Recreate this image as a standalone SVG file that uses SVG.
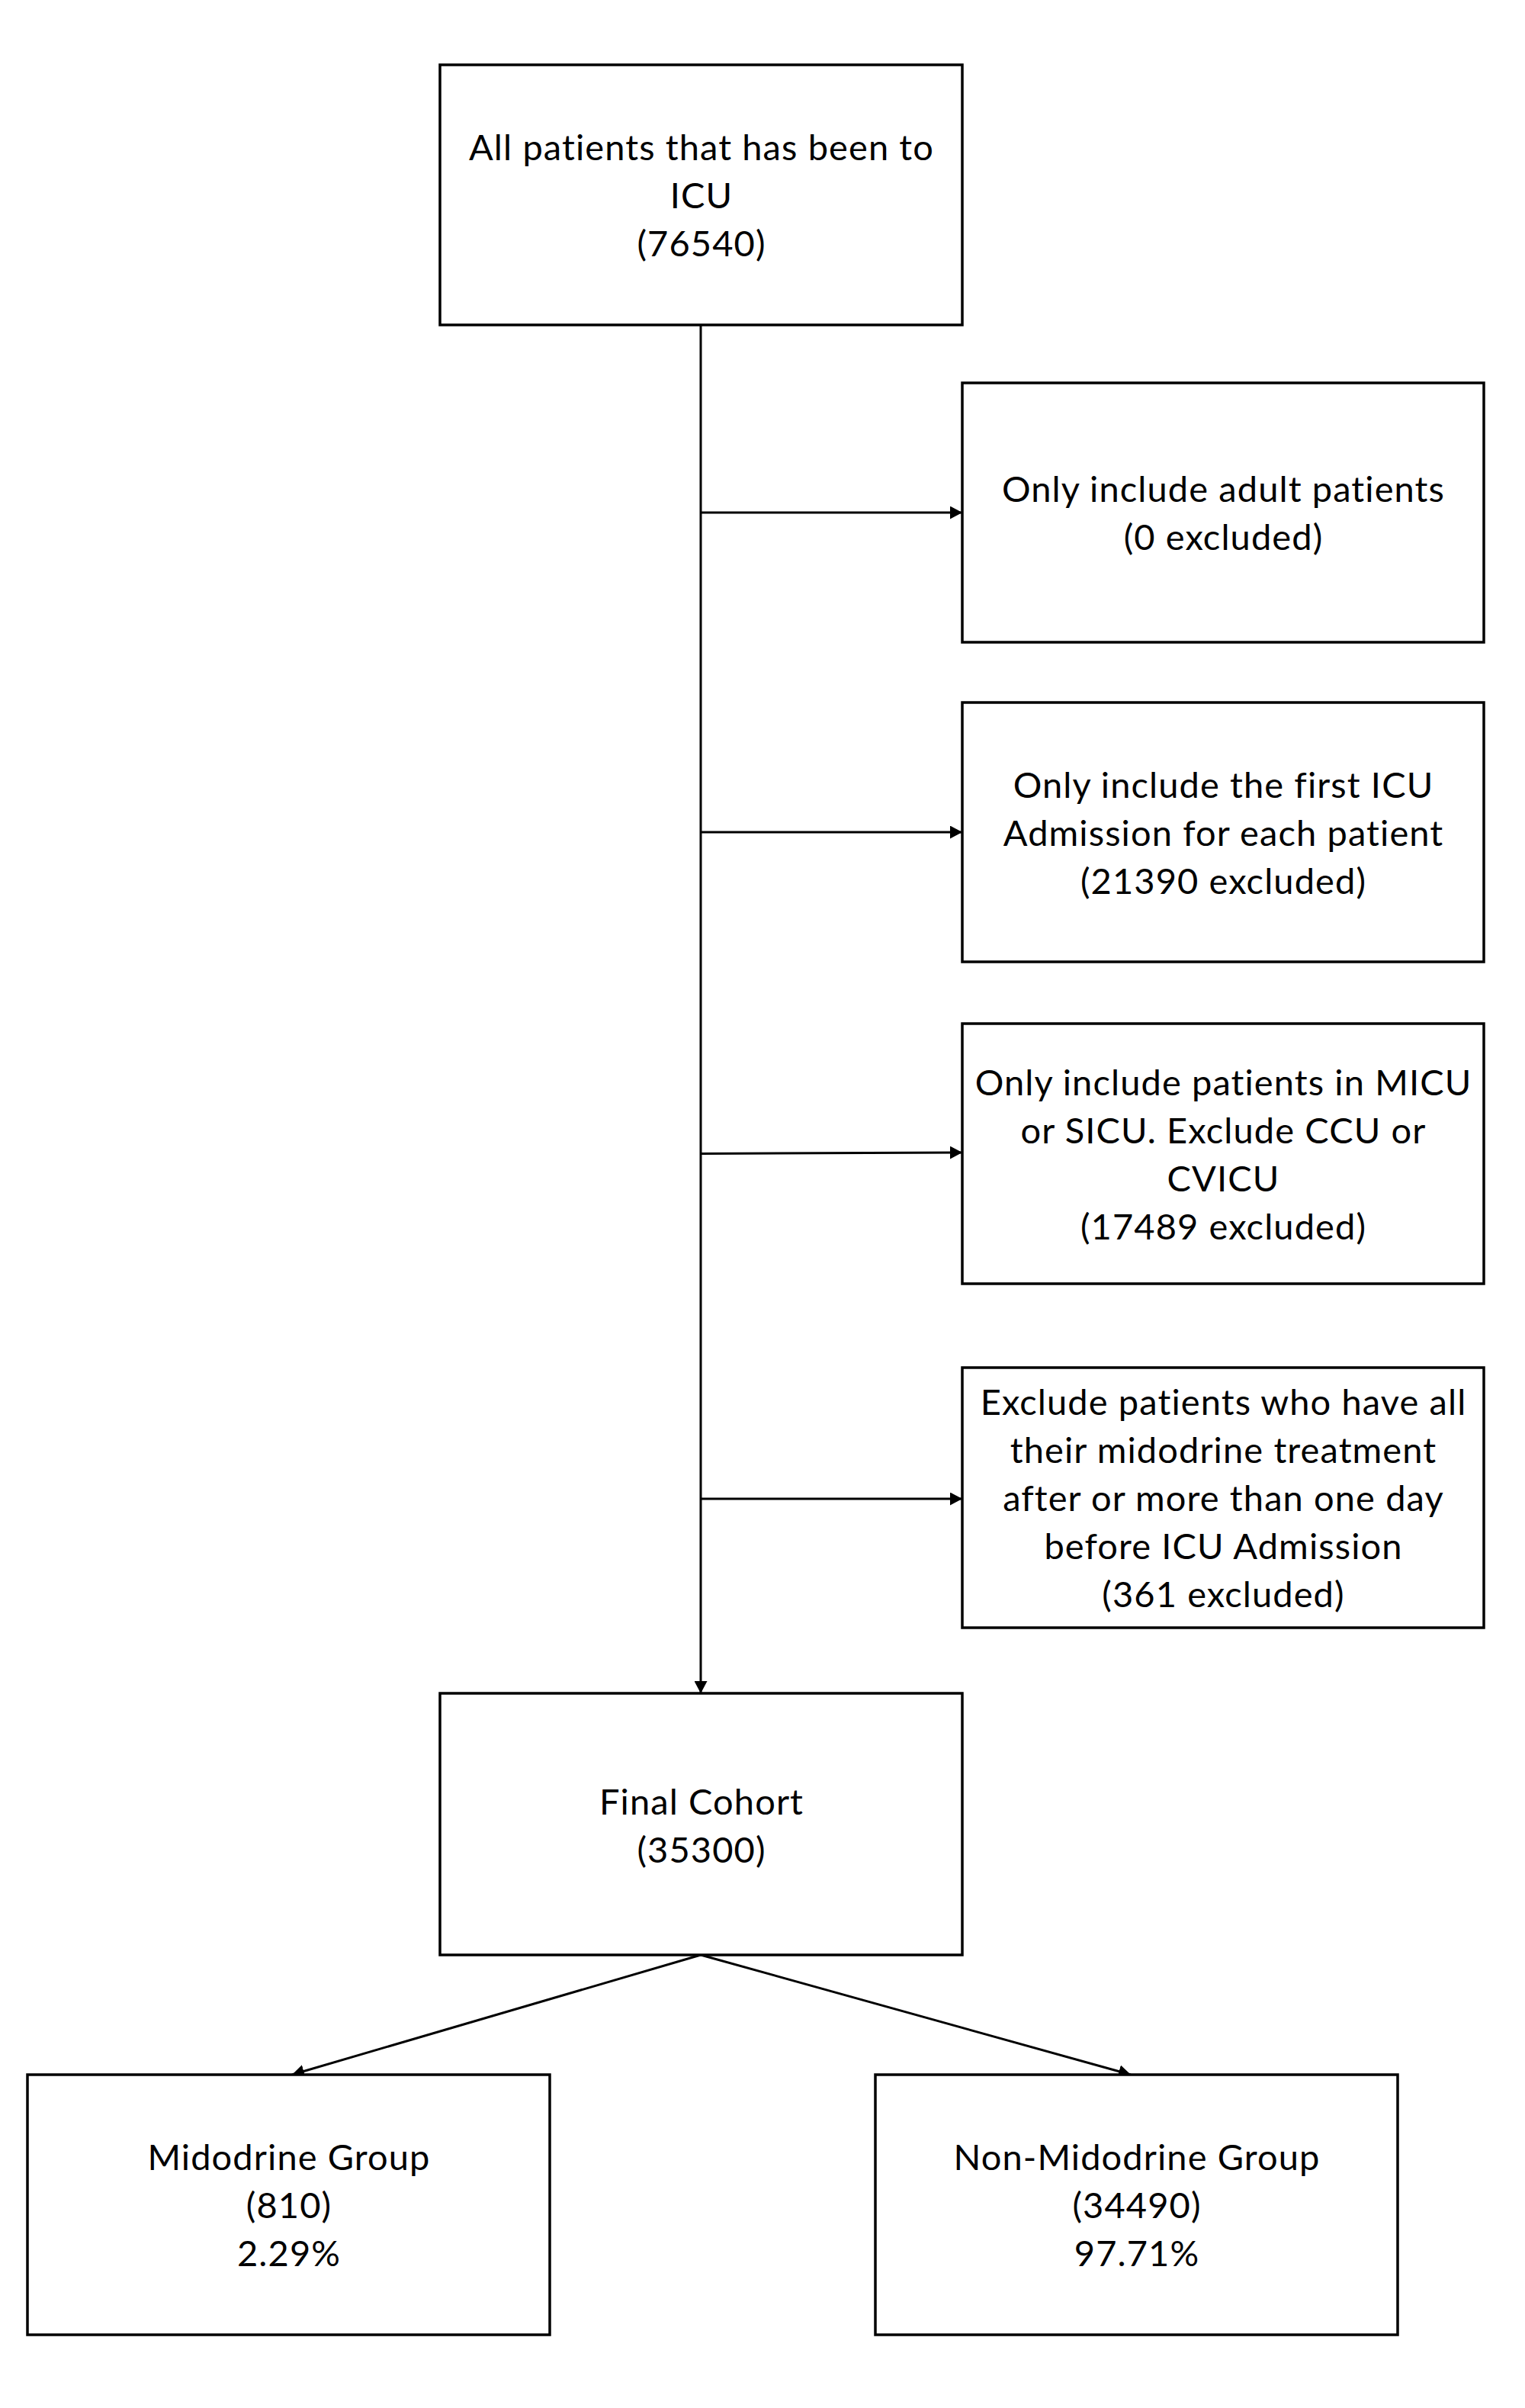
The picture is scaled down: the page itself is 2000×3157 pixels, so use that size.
<svg xmlns="http://www.w3.org/2000/svg" width="2000" height="3157" viewBox="0 0 2000 3157">
<style>
.box{fill:#fff;stroke:#000;stroke-width:3.5}
.t{font-family:Lato,"Open Sans","Liberation Sans",sans-serif;font-size:47px;letter-spacing:1.1px;fill:#000;text-anchor:middle;font-variant-ligatures:none}
.c{stroke:#000;stroke-width:3;fill:none}
</style>
<defs>
<marker id="ah" markerUnits="userSpaceOnUse" markerWidth="16" markerHeight="17" refX="16" refY="8.5" orient="auto">
<path d="M0,0 L16,8.5 L0,17 z" fill="#000"/>
</marker>
</defs>
<rect width="2000" height="3157" fill="#fff"/>
<g id="connectors">
<line class="c" x1="919" y1="426" x2="919" y2="2220" marker-end="url(#ah)"/>
<line class="c" x1="919" y1="672" x2="1262" y2="672" marker-end="url(#ah)"/>
<line class="c" x1="919" y1="1091" x2="1262" y2="1091" marker-end="url(#ah)"/>
<line class="c" x1="919" y1="1512.5" x2="1262" y2="1511" marker-end="url(#ah)"/>
<line class="c" x1="919" y1="1965" x2="1262" y2="1965" marker-end="url(#ah)"/>
<line class="c" x1="919" y1="2563" x2="383" y2="2720" marker-end="url(#ah)"/>
<line class="c" x1="919" y1="2563" x2="1483" y2="2720" marker-end="url(#ah)"/>
</g>
<g id="n-all">
<rect class="box" x="577" y="85" width="685" height="341"/>
<text class="t" x="920" y="210">All patients that has been to</text>
<text class="t" x="920" y="273">ICU</text>
<text class="t" x="920" y="336">(76540)</text>
</g>
<g id="n-adult">
<rect class="box" x="1262" y="502" width="684" height="340"/>
<text class="t" x="1604.5" y="658">Only include adult patients</text>
<text class="t" x="1604.5" y="721">(0 excluded)</text>
</g>
<g id="n-first">
<rect class="box" x="1262" y="921" width="684" height="340"/>
<text class="t" x="1604.5" y="1045.5">Only include the first ICU</text>
<text class="t" x="1604.5" y="1108.5">Admission for each patient</text>
<text class="t" x="1604.5" y="1171.5">(21390 excluded)</text>
</g>
<g id="n-unit">
<rect class="box" x="1262" y="1342" width="684" height="341"/>
<text class="t" x="1604.5" y="1435.5">Only include patients in MICU</text>
<text class="t" x="1604.5" y="1498.5">or SICU. Exclude CCU or</text>
<text class="t" x="1604.5" y="1561.5">CVICU</text>
<text class="t" x="1604.5" y="1624.5">(17489 excluded)</text>
</g>
<g id="n-mido">
<rect class="box" x="1262" y="1793" width="684" height="341"/>
<text class="t" x="1604.5" y="1855">Exclude patients who have all</text>
<text class="t" x="1604.5" y="1918">their midodrine treatment</text>
<text class="t" x="1604.5" y="1981">after or more than one day</text>
<text class="t" x="1604.5" y="2044">before ICU Admission</text>
<text class="t" x="1604.5" y="2107">(361 excluded)</text>
</g>
<g id="n-final">
<rect class="box" x="577" y="2220" width="685" height="343"/>
<text class="t" x="920" y="2378.5">Final Cohort</text>
<text class="t" x="920" y="2441.5">(35300)</text>
</g>
<g id="n-midogroup">
<rect class="box" x="36" y="2720" width="685" height="341"/>
<text class="t" x="379" y="2845">Midodrine Group</text>
<text class="t" x="379" y="2908">(810)</text>
<text class="t" x="379" y="2971">2.29%</text>
</g>
<g id="n-nonmido">
<rect class="box" x="1148" y="2720" width="685" height="341"/>
<text class="t" x="1491" y="2845">Non-Midodrine Group</text>
<text class="t" x="1491" y="2908">(34490)</text>
<text class="t" x="1491" y="2971">97.71%</text>
</g>
</svg>
